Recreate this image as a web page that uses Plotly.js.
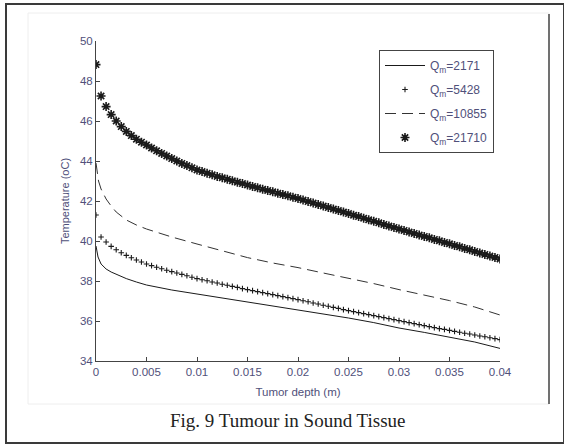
<!DOCTYPE html>
<html>
<head>
<meta charset="utf-8">
<script src="https://cdn.plot.ly/plotly-3.0.1.min.js"></script>
<style>
  html, body { margin: 0; padding: 0; background: #ffffff; }
  #chart { width: 564px; height: 445px; }
</style>
</head>
<body>
<div id="chart"></div>
<script>
// ---- Data ----
const seriesNames = ["Q<sub>m</sub>=2171", "Q<sub>m</sub>=5428", "Q<sub>m</sub>=10855", "Q<sub>m</sub>=21710"];

// depth grid used by the marker series (m)
const depthMarkers = [
  0, 0.0005, 0.001, 0.0015, 0.002, 0.0025, 0.003, 0.0035, 0.004, 0.0045,
  0.005, 0.0055, 0.006, 0.0065, 0.007, 0.0075, 0.008, 0.0085, 0.009, 0.0095,
  0.01, 0.0105, 0.011, 0.0115, 0.012, 0.0125, 0.013, 0.0135, 0.014, 0.0145,
  0.015, 0.0155, 0.016, 0.0165, 0.017, 0.0175, 0.018, 0.0185, 0.019, 0.0195,
  0.02, 0.0205, 0.021, 0.0215, 0.022, 0.0225, 0.023, 0.0235, 0.024, 0.0245,
  0.025, 0.0255, 0.026, 0.0265, 0.027, 0.0275, 0.028, 0.0285, 0.029, 0.0295,
  0.03, 0.0305, 0.031, 0.0315, 0.032, 0.0325, 0.033, 0.0335, 0.034, 0.0345,
  0.035, 0.0355, 0.036, 0.0365, 0.037, 0.0375, 0.038, 0.0385, 0.039, 0.0395,
  0.04
];

// Qm = 5428 (plus markers)
const temp5428 = [
  41.30, 40.20, 39.95, 39.73, 39.56, 39.41, 39.28, 39.16, 39.05, 38.95,
  38.85, 38.77, 38.69, 38.61, 38.54, 38.47, 38.40, 38.33, 38.26, 38.19,
  38.12, 38.06, 38.01, 37.95, 37.90, 37.84, 37.79, 37.73, 37.68, 37.62,
  37.57, 37.52, 37.47, 37.42, 37.37, 37.32, 37.27, 37.22, 37.17, 37.12,
  37.07, 37.01, 36.96, 36.90, 36.85, 36.79, 36.74, 36.68, 36.63, 36.57,
  36.52, 36.47, 36.42, 36.37, 36.32, 36.27, 36.22, 36.17, 36.12, 36.07,
  36.02, 35.97, 35.92, 35.87, 35.82, 35.77, 35.72, 35.67, 35.62, 35.58,
  35.53, 35.48, 35.44, 35.39, 35.35, 35.30, 35.25, 35.21, 35.16, 35.12,
  35.07
];

// Qm = 21710 (asterisk markers)
const temp21710 = [
  48.82, 47.25, 46.72, 46.32, 46.00, 45.72, 45.48, 45.27, 45.09, 44.94,
  44.80, 44.65, 44.51, 44.38, 44.25, 44.12, 44.00, 43.88, 43.77, 43.66,
  43.55, 43.47, 43.39, 43.31, 43.23, 43.16, 43.09, 43.01, 42.94, 42.87,
  42.80, 42.73, 42.66, 42.59, 42.53, 42.46, 42.39, 42.32, 42.26, 42.19,
  42.12, 42.05, 41.97, 41.90, 41.82, 41.75, 41.67, 41.60, 41.52, 41.45,
  41.37, 41.29, 41.22, 41.14, 41.06, 40.99, 40.91, 40.83, 40.75, 40.68,
  40.60, 40.53, 40.45, 40.38, 40.30, 40.23, 40.16, 40.08, 40.01, 39.93,
  39.86, 39.78, 39.71, 39.63, 39.56, 39.48, 39.40, 39.33, 39.25, 39.18,
  39.10
];

// Qm = 2171 (solid line)
const depth2171 = [0, 0.0002, 0.0005, 0.001, 0.0015, 0.002, 0.003, 0.004, 0.005, 0.0075, 0.01, 0.0125, 0.015, 0.0175, 0.02, 0.0225, 0.025, 0.0275, 0.03, 0.0325, 0.035, 0.0375, 0.04];
const temp2171  = [39.75, 39.2, 38.85, 38.6, 38.45, 38.33, 38.12, 37.95, 37.8, 37.55, 37.35, 37.15, 36.97, 36.78, 36.57, 36.38, 36.15, 35.92, 35.65, 35.43, 35.2, 34.95, 34.63];

// Qm = 10855 (dashed line)
const depth10855 = [0, 0.00025, 0.0005, 0.001, 0.0015, 0.002, 0.003, 0.004, 0.005, 0.0075, 0.01, 0.0125, 0.015, 0.0175, 0.02, 0.0225, 0.025, 0.0275, 0.03, 0.0325, 0.035, 0.0375, 0.04];
const temp10855  = [43.9, 43.0, 42.6, 42.1, 41.75, 41.45, 41.05, 40.8, 40.6, 40.2, 39.85, 39.5, 39.17, 38.9, 38.67, 38.4, 38.15, 37.87, 37.57, 37.3, 37.02, 36.7, 36.3];

const xTicks = [0, 0.005, 0.01, 0.015, 0.02, 0.025, 0.03, 0.035, 0.04];
const xTickText = ["0", "0.005", "0.01", "0.015", "0.02", "0.025", "0.03", "0.035", "0.04"];
const yTicks = [34, 36, 38, 40, 42, 44, 46, 48, 50];

const captionText = "Fig. 9 Tumour in Sound Tissue";
const xTitle = "Tumor depth (m)";
const yTitle = "Temperature (oC)";

// ---- Traces ----
const ink = "#1a1a1a";
const traces = [
  { x: depth2171, y: temp2171, name: seriesNames[0], mode: "lines", legendgroup: "a",
    line: { color: ink, width: 1 } },
  { x: depthMarkers, y: temp5428, name: seriesNames[1], mode: "markers", legendgroup: "b",
    marker: { symbol: "cross-thin-open", size: 4, color: ink, line: { color: ink, width: 1.1 } } },
  { x: depth10855, y: temp10855, name: seriesNames[2], mode: "lines", legendgroup: "c",
    line: { color: "#333333", width: 1, dash: "11px,6px" } },
  { x: depthMarkers, y: temp21710, name: seriesNames[3], mode: "markers", legendgroup: "d",
    marker: { symbol: "asterisk-open", size: 7.5, color: ink, line: { color: ink, width: 1.6 } } }
];

// plot area in pixels: x 96..500, y 41..361
const L = 96, R = 500, T = 41, B = 361;
const px = v => (v - L) / (R - L);
const py = v => (B - v) / (B - T);

const labelColor = "#50507a";

const layout = {
  width: 564, height: 445,
  margin: { l: L, r: 564 - R, t: T, b: 445 - B, pad: 0 },
  paper_bgcolor: "#ffffff",
  plot_bgcolor: "#ffffff",
  showlegend: true,
  font: { family: "Arial, Liberation Sans, sans-serif", size: 11, color: labelColor },
  xaxis: {
    range: [0, 0.04], tickvals: xTicks, ticktext: xTickText,
    showgrid: false, zeroline: false, showline: true, linecolor: "#444", linewidth: 1,
    ticks: "inside", ticklen: 4, tickcolor: "#444", mirror: false,
    tickfont: { size: 11.5, color: labelColor },
    title: { text: xTitle, font: { size: 11.5, color: labelColor }, standoff: 11 }
  },
  yaxis: {
    range: [34, 50], tickvals: yTicks,
    showgrid: false, zeroline: false, showline: true, linecolor: "#444", linewidth: 1,
    ticks: "inside", ticklen: 4, tickcolor: "#444", mirror: false,
    tickfont: { size: 11.5, color: labelColor },
    title: { text: yTitle, font: { size: 11, color: labelColor }, standoff: 8 }
  },
  legend: {
    x: px(379), y: py(50), xanchor: "left", yanchor: "top",
    bgcolor: "#ffffff", bordercolor: "#444", borderwidth: 1,
    font: { size: 12, color: labelColor },
    itemwidth: 40, traceorder: "grouped", tracegroupgap: 5
  },
  annotations: [
    { text: captionText, xref: "paper", yref: "paper", x: px(288), y: py(420),
      xanchor: "center", yanchor: "middle", showarrow: false,
      font: { family: "Liberation Serif, Times New Roman, serif", size: 19, color: "#222" } }
  ],
  shapes: [
    // faint figure boundary
    { type: "rect", xref: "paper", yref: "paper", x0: px(28), x1: px(549), y0: py(404), y1: py(13),
      line: { color: "#eeeeee", width: 1 }, layer: "below" },
    // outer frame
    { type: "rect", xref: "paper", yref: "paper", x0: px(6), x1: px(564), y0: py(443), y1: py(4),
      line: { color: "#3a3a3a", width: 2 } },
    // vertical line on the right
    { type: "line", xref: "paper", yref: "paper", x0: px(549), x1: px(549), y0: py(404), y1: py(14),
      line: { color: "#444", width: 1.5 } }
  ]
};

Plotly.newPlot("chart", traces, layout, { displayModeBar: false, staticPlot: true });
</script>
</body>
</html>
